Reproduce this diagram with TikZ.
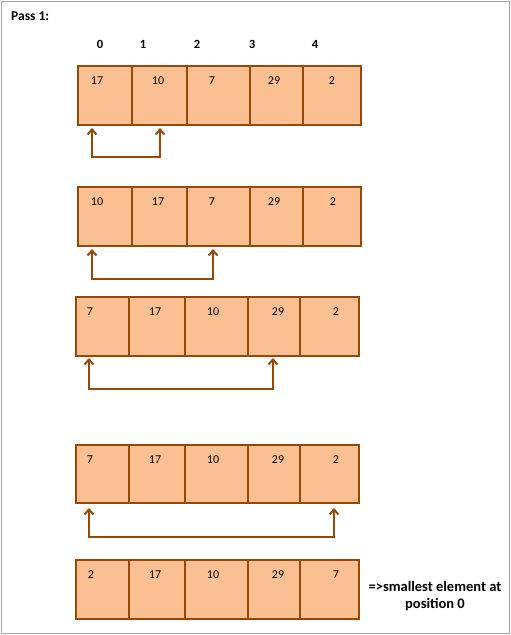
\documentclass[tikz,border=0pt]{standalone}
\usepackage{fontspec}
\setmainfont{Carlito}
\usetikzlibrary{arrows.meta}

\definecolor{cellfill}{RGB}{250,192,146}
\definecolor{celledge}{RGB}{152,72,6}

\begin{document}
\begin{tikzpicture}[x = 1pt, y = -1pt,
  cell/.style = {draw = celledge, fill = cellfill, line width = 2pt},
  num/.style = {font = \fontsize{12}{14}\selectfont, inner sep = 0pt},
  idx/.style = {font = \fontsize{12.5}{15}\selectfont\bfseries, inner sep = 0pt},
  swap/.style = {draw = celledge, line width = 2pt,
    {Straight Barb[length = 5pt, width = 9pt]}-{Straight Barb[length = 5pt, width = 9pt]}}]
  \useasboundingbox (0, 0) rectangle (511, 635);
  \draw[gray!70, line width = 1pt] (1, 1) rectangle (509, 633);

  \node[font = \fontsize{13.5}{15}\selectfont\bfseries, anchor = west, inner sep = 0pt] (pass) at (11, 16) {Pass 1:};

  % index labels
  \foreach \x [count = \i from 0] in {100, 143, 197, 252, 315}
    \node[idx] (idx\i) at (\x, 44) {\i};

  % row 1
  \foreach \l/\r/\x/\v [count = \i] in {78/132/97/17, 132/187/158/10,
      187/250/212/7, 250/303/274/29, 303/361/332/2} {
    \draw[cell] (\l, 66) rectangle (\r, 125);
    \node[num] (ra\i) at (\x, 81) {\v};
  }
  % row 2
  \foreach \l/\r/\x/\v [count = \i] in {78/132/97/10, 132/187/158/17,
      187/250/212/7, 250/303/274/29, 303/361/333/2} {
    \draw[cell] (\l, 187) rectangle (\r, 246);
    \node[num] (rb\i) at (\x, 202) {\v};
  }
  % row 3
  \foreach \l/\r/\x/\v [count = \i] in {76/129/90/7, 129/185/155/17,
      185/248/213/10, 248/300/278/29, 300/359/336/2} {
    \draw[cell] (\l, 297) rectangle (\r, 356);
    \node[num] (rc\i) at (\x, 312) {\v};
  }
  % row 4
  \foreach \l/\r/\x/\v [count = \i] in {76/129/90/7, 129/185/155/17,
      185/248/213/10, 248/300/278/29, 300/359/336/2} {
    \draw[cell] (\l, 445) rectangle (\r, 503);
    \node[num] (rd\i) at (\x, 460) {\v};
  }
  % row 5
  \foreach \l/\r/\x/\v [count = \i] in {76/129/91/2, 129/185/155/17,
      185/248/213/10, 248/300/278/29, 300/359/336/7} {
    \draw[cell] (\l, 560) rectangle (\r, 619);
    \node[num] (re\i) at (\x, 575) {\v};
  }

  % swaps
  \coordinate (sa1) at (92, 128);  \coordinate (sa2) at (160, 128);
  \coordinate (sb1) at (92, 249);  \coordinate (sb2) at (213, 249);
  \coordinate (sc1) at (89, 358);  \coordinate (sc2) at (273, 358);
  \coordinate (sd1) at (89, 508);  \coordinate (sd2) at (334, 508);
  \draw[swap] (sa1) -- ++(0, 29) -| (sa2);
  \draw[swap] (sb1) -- ++(0, 30) -| (sb2);
  \draw[swap] (sc1) -- ++(0, 31) -| (sc2);
  \draw[swap] (sd1) -- ++(0, 29) -| (sd2);

  \node[font = \fontsize{14.5}{17}\selectfont\bfseries, align = center, inner sep = 0pt] (note) at (435, 596)
    {=>smallest element at\\position 0};
\end{tikzpicture}
\end{document}
